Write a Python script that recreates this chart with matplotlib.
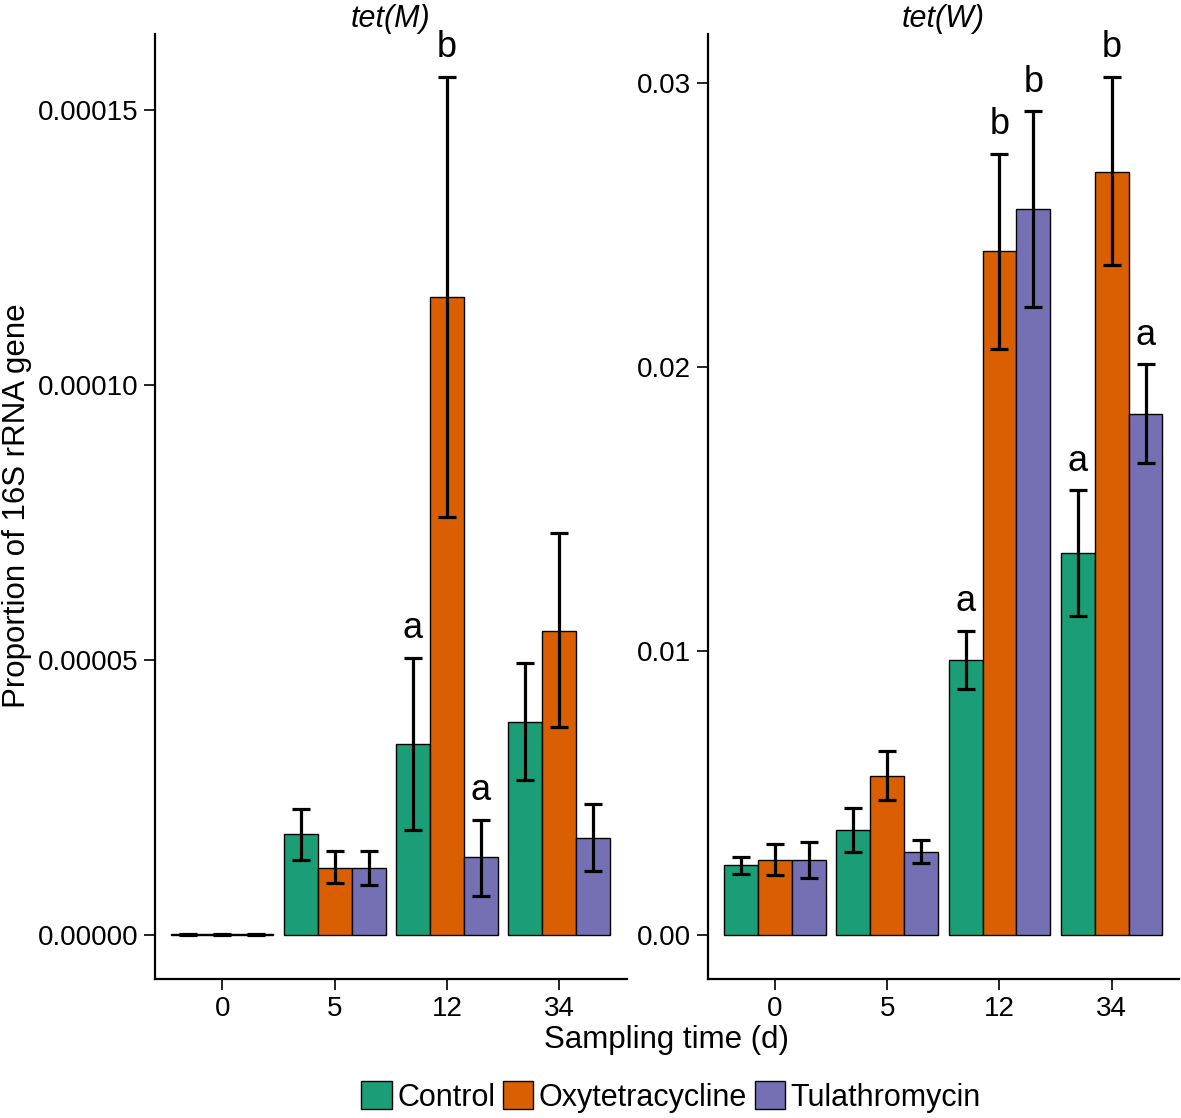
import numpy as np
import matplotlib; matplotlib.use('Agg')
import matplotlib.pyplot as plt
from matplotlib.patches import Patch

plt.rcParams['font.family'] = ['Liberation Sans', 'DejaVu Sans']

days = ['0', '5', '12', '34']
groups = ['Control', 'Oxytetracycline', 'Tulathromycin']
colors = ['#1B9E77', '#D95F02', '#7570B3']

# tet(M): mean, lower and upper end of error bar, per group (rows) and day (cols)
tetm_mean = [[1e-7, 1.83e-5, 3.47e-5, 3.88e-5],
             [1e-7, 1.22e-5, 1.16e-4, 5.53e-5],
             [1e-7, 1.22e-5, 1.41e-5, 1.77e-5]]
tetm_lo = [[0.5e-7, 1.36e-5, 1.91e-5, 2.81e-5],
           [0.5e-7, 0.94e-5, 7.60e-5, 3.79e-5],
           [0.5e-7, 0.91e-5, 0.71e-5, 1.17e-5]]
tetm_hi = [[2e-7, 2.30e-5, 5.04e-5, 4.95e-5],
           [2e-7, 1.53e-5, 1.56e-4, 7.30e-5],
           [2e-7, 1.53e-5, 2.10e-5, 2.38e-5]]
tetm_letters = [(2, 0, 'a'), (2, 1, 'b'), (2, 2, 'a')]

# tet(W)
tetw_mean = [[0.00245, 0.00369, 0.00969, 0.01344],
             [0.00264, 0.00560, 0.02410, 0.02689],
             [0.00264, 0.00293, 0.02556, 0.01835]]
tetw_lo = [[0.00215, 0.00291, 0.00865, 0.01124],
           [0.00210, 0.00476, 0.02066, 0.02360],
           [0.00200, 0.00255, 0.02213, 0.01664]]
tetw_hi = [[0.00276, 0.00447, 0.01072, 0.01567],
           [0.00320, 0.00648, 0.02753, 0.03023],
           [0.00326, 0.00335, 0.02902, 0.02010]]
tetw_letters = [(2, 0, 'a'), (2, 1, 'b'), (2, 2, 'b'), (3, 0, 'a'), (3, 1, 'b'), (3, 2, 'a')]

fig = plt.figure(figsize=(11.81, 11.18), dpi=100)
ax1 = fig.add_axes([0.1312, 0.1243, 0.3994, 0.8453])
ax2 = fig.add_axes([0.5993, 0.1243, 0.3990, 0.8453])

def panel(ax, mean, lo, hi, letters, title, ylim, yticks, fmt):
    x = np.arange(len(days)); w = 0.302
    for i, g in enumerate(groups):
        m = np.array(mean[i]); l = np.array(lo[i]); h = np.array(hi[i])
        xs = x + (i - 1) * w
        ax.bar(xs, m, width=w, color=colors[i], edgecolor='black', linewidth=1.0, zorder=2)
        ax.errorbar(xs, m, yerr=[m - l, h - m], fmt='none', ecolor='black',
                    elinewidth=2.3, capsize=6.5, capthick=2.3, zorder=3)
    for d, i, s in letters:
        ax.annotate(s, (x[d] + (i - 1) * w, hi[i][d]), xytext=(0, 14), textcoords='offset points',
                    ha='center', va='baseline', fontsize=26)
    ax.set_xlim(-0.6, 3.6); ax.set_ylim(*ylim)
    ax.set_xticks(x); ax.set_xticklabels(days)
    ax.set_yticks(yticks); ax.set_yticklabels([fmt.format(v) for v in yticks])
    ax.tick_params(labelsize=20, length=8, width=1.2, pad=4)
    for s in ['top', 'right']: ax.spines[s].set_visible(False)
    for s in ['left', 'bottom']: ax.spines[s].set_linewidth(1.6)
    ax.set_title(title, fontsize=22, style='italic', pad=4)

panel(ax1, tetm_mean, tetm_lo, tetm_hi, tetm_letters, 'tet(M)',
      (-8.0e-6, 1.638e-4), [0, 5e-5, 1e-4, 1.5e-4], '{:.5f}')
panel(ax2, tetw_mean, tetw_lo, tetw_hi, tetw_letters, 'tet(W)',
      (-0.00155, 0.03174), [0, 0.01, 0.02, 0.03], '{:.2f}')

fig.text(17/1181, 1 - 506/1118, 'Proportion of 16S rRNA gene', rotation=90,
         ha='center', va='center', fontsize=22.5)
fig.text(666/1181, 1 - 1040/1118, 'Sampling time (d)', ha='center', va='center', fontsize=22.5)

handles = [Patch(facecolor=c, edgecolor='black', linewidth=1.0) for c in colors]
fig.legend(handles, groups, loc='center', bbox_to_anchor=(671/1181, 1 - 1097/1118), ncol=3,
           frameon=False, fontsize=22, handlelength=1.0, handleheight=1.0,
           handletextpad=0.17, columnspacing=0.25, borderpad=0)

plt.savefig('out.png', dpi=100)
